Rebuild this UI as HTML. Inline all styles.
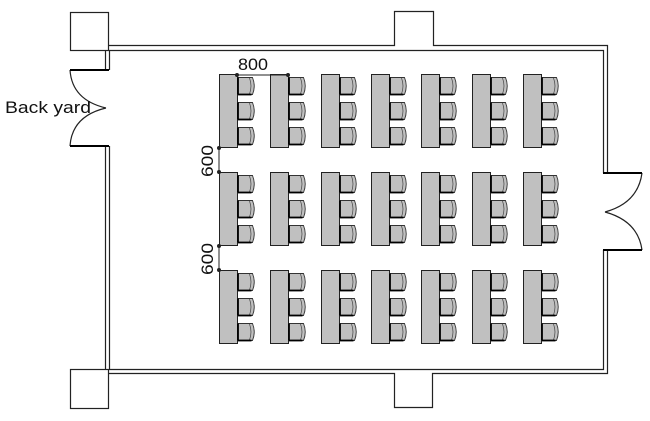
<!DOCTYPE html>
<html><head><meta charset="utf-8"><style>body{margin:0;background:#fff}svg{display:block}</style></head>
<body>
<svg width="650" height="421" viewBox="0 0 650 421" xmlns="http://www.w3.org/2000/svg">
<defs>
<g id="ch">
  <path d="M0.5,0.5 H15 Q18.5,9 15,17.5 H0.5 Z" fill="#c0c0c0" stroke="#333" stroke-width="0.9"/>
  <path d="M12,1 Q15,9 12,17" fill="none" stroke="#444" stroke-width="0.7"/>
  <line x1="0.5" y1="0.5" x2="0.5" y2="17.5" stroke="#000" stroke-width="1.8"/>
  <line x1="0.5" y1="17.5" x2="14" y2="17.5" stroke="#000" stroke-width="1.8"/>
</g>
<g id="t">
  <rect x="0.5" y="0.5" width="18" height="73" fill="#c0c0c0" stroke="#222" stroke-width="1"/>
  <use href="#ch" x="18.5" y="3"/>
  <use href="#ch" x="18.5" y="28"/>
  <use href="#ch" x="18.5" y="53"/>
</g>
<g id="row">
  <use href="#t" x="219"/><use href="#t" x="270"/><use href="#t" x="321"/><use href="#t" x="371"/>
  <use href="#t" x="421"/><use href="#t" x="472"/><use href="#t" x="523"/>
</g>
</defs>
<g fill="none" stroke="#222" stroke-width="1.2">
  <rect x="70.5" y="12.5" width="38" height="38"/>
  <rect x="70.5" y="369.5" width="38" height="39"/>
  <polyline points="108.5,45.5 394.5,45.5 394.5,11.5 433.5,11.5 433.5,45.5 607.5,45.5 607.5,173"/>
  <polyline points="109.5,70 109.5,50.5 603.5,50.5 603.5,173"/>
  <polyline points="105.5,70 105.5,50.5"/>
  <polyline points="105.5,146 105.5,369.5"/>
  <polyline points="109.5,146 109.5,369.5 603.5,369.5 603.5,250"/>
  <polyline points="108.5,373.5 394.5,373.5 394.5,407.5 432.5,407.5 432.5,373.5 607.5,373.5 607.5,250"/>
  <path d="M70,70 Q72,100 106,108 M70,146 Q72,116 106,108"/>
  <path d="M642,173 Q638,203 605,212 M642,250 Q638,221 605,212"/>
</g>
<g stroke="#000" stroke-width="2">
  <line x1="70" y1="70" x2="109" y2="70"/><line x1="70" y1="146" x2="109" y2="146"/>
  <line x1="603" y1="173" x2="642" y2="173"/><line x1="603" y1="250" x2="642" y2="250"/>
</g>
<use href="#row" y="74"/>
<use href="#row" y="172"/>
<use href="#row" y="270"/>
<g stroke="#222" stroke-width="1" fill="#222">
  <line x1="237" y1="75" x2="288" y2="75"/>
  <circle cx="237" cy="75" r="1.5"/><circle cx="288" cy="75" r="1.5"/>
  <line x1="219" y1="148" x2="219" y2="172"/>
  <circle cx="219" cy="148" r="1.5"/><circle cx="219" cy="172" r="1.5"/>
  <line x1="219" y1="246" x2="219" y2="270"/>
  <circle cx="219" cy="246" r="1.5"/><circle cx="219" cy="270" r="1.5"/>
</g>
<g font-family="Liberation Sans, sans-serif" font-size="17" fill="#111">
  <text x="238" y="70" textLength="30" lengthAdjust="spacingAndGlyphs">800</text>
  <text x="5" y="113" textLength="86" lengthAdjust="spacingAndGlyphs">Back yard</text>
  <text transform="translate(213,177) rotate(-90)" textLength="32" lengthAdjust="spacingAndGlyphs">600</text>
  <text transform="translate(213,275) rotate(-90)" textLength="32" lengthAdjust="spacingAndGlyphs">600</text>
</g>
</svg>
</body></html>
